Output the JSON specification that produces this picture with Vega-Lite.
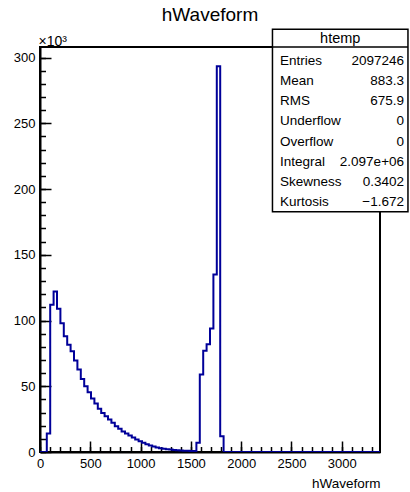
{
  "$schema": "https://vega.github.io/schema/vega-lite/v6.json",
  "width": 340,
  "height": 405,
  "autosize": {"type": "none"},
  "padding": {"left": 40, "top": 47, "right": 30, "bottom": 40},
  "background": "white",
  "config": {
    "font": "Liberation Sans",
    "view": {"stroke": "black", "strokeWidth": 2},
    "axis": {
      "domainColor": "black", "domainWidth": 2, "tickColor": "black", "tickWidth": 1.5,
      "labelColor": "black", "titleColor": "black", "labelFont": "Liberation Sans", "titleFont": "Liberation Sans",
      "labelFontSize": 13, "grid": false, "zindex": 1, "labelFlush": false, "labelOverlap": false, "labelBound": false
    }
  },
  "title": {"text": "hWaveform", "fontSize": 19, "fontWeight": "normal", "font": "Liberation Sans", "anchor": "middle", "frame": "group", "offset": 4, "color": "black"},
  "datasets": {
    "hist": [
      {"x":0,"count":0},{"x":33.8,"count":0},{"x":67.6,"count":14000},{"x":101.4,"count":112000},{"x":135.2,"count":122000},{"x":169,"count":109000},{"x":202.8,"count":98000},{"x":236.6,"count":88000},{"x":270.4,"count":81600},{"x":304.2,"count":76600},{"x":338,"count":69500},{"x":371.8,"count":62700},{"x":405.6,"count":55600},{"x":439.4,"count":50000},{"x":473.2,"count":45400},{"x":507,"count":40600},{"x":540.8,"count":36800},{"x":574.6,"count":32800},{"x":608.4,"count":29700},{"x":642.2,"count":27200},{"x":676,"count":24700},{"x":709.8,"count":22200},{"x":743.6,"count":19600},{"x":777.4,"count":17600},{"x":811.2,"count":15600},{"x":845,"count":14100},{"x":878.8,"count":12500},{"x":912.6,"count":11000},{"x":946.4,"count":9500},{"x":980.2,"count":8200},{"x":1014,"count":7000},{"x":1047.8,"count":5900},{"x":1081.6,"count":4900},{"x":1115.4,"count":4200},{"x":1149.2,"count":3400},{"x":1183,"count":2900},{"x":1216.8,"count":2400},{"x":1250.6,"count":2100},{"x":1284.4,"count":1900},{"x":1318.2,"count":1600},{"x":1352,"count":1400},{"x":1385.8,"count":1200},{"x":1419.6,"count":1000},{"x":1453.4,"count":900},{"x":1487.2,"count":800},{"x":1521,"count":700},{"x":1554.8,"count":7000},{"x":1588.6,"count":59000},{"x":1622.4,"count":77000},{"x":1656.2,"count":82000},{"x":1690,"count":94000},{"x":1723.8,"count":135000},{"x":1757.6,"count":293300},{"x":1791.4,"count":12000},{"x":1825.2,"count":0},{"x":3380,"count":0}
    ],
    "stats": [
      {"stat": "Entries", "val": "2097246"},
      {"stat": "Mean", "val": "883.3"},
      {"stat": "RMS", "val": "675.9"},
      {"stat": "Underflow", "val": "0"},
      {"stat": "Overflow", "val": "0"},
      {"stat": "Integral", "val": "2.097e+06"},
      {"stat": "Skewness", "val": "0.3402"},
      {"stat": "Kurtosis", "val": "\u22121.672"}
    ],
    "header": [{"label": "htemp"}]
  },
  "layer": [
    {
      "resolve": {"axis": {"x": "independent", "y": "independent"}},
      "layer": [
        {
          "data": {"name": "hist"},
          "mark": {"type": "line", "interpolate": "step-after", "color": "#000099", "strokeWidth": 2, "clip": true},
          "encoding": {
            "x": {
              "field": "x", "type": "quantitative",
              "scale": {"domain": [0, 3380], "nice": false, "zero": false},
              "axis": {
                "orient": "bottom",
                "values": [0,500,1000,1500,2000,2500,3000],
                "format": "d",
                "tickSize": -11,
                "labelPadding": 16,
                "title": "hWaveform", "titleFontSize": 13.5, "titleFontWeight": "normal",
                "titleAnchor": "end", "titleAlign": "right", "titleBaseline": "middle", "titleY": 31
              }
            },
            "y": {
              "field": "count", "type": "quantitative",
              "scale": {"domain": [0, 308000], "nice": false},
              "axis": {
                "orient": "left",
                "values": [0,50000,100000,150000,200000,250000,300000],
                "labelExpr": "'' + (datum.value / 1000)",
                "tickSize": -11,
                "labelPadding": 16,
                "title": "\u00d710\u00b3", "titleAngle": 0, "titleAlign": "left", "titleBaseline": "alphabetic",
                "titleX": -2, "titleY": -2, "titleFontSize": 14, "titleFontWeight": "normal"
              }
            }
          }
        },
        {
          "data": {"values": [{}]},
          "mark": {"type": "point", "opacity": 0, "clip": true},
          "encoding": {
            "x": {
              "datum": 0, "type": "quantitative",
              "axis": {
                "orient": "bottom",
                "values": [0,100,200,300,400,500,600,700,800,900,1000,1100,1200,1300,1400,1500,1600,1700,1800,1900,2000,2100,2200,2300,2400,2500,2600,2700,2800,2900,3000,3100,3200,3300],
                "tickSize": -5.5, "labels": false, "domain": false, "title": null
              }
            },
            "y": {
              "datum": 0, "type": "quantitative",
              "axis": {
                "orient": "left",
                "values": [0,10000,20000,30000,40000,50000,60000,70000,80000,90000,100000,110000,120000,130000,140000,150000,160000,170000,180000,190000,200000,210000,220000,230000,240000,250000,260000,270000,280000,290000,300000],
                "tickSize": -5.5, "labels": false, "domain": false, "title": null
              }
            }
          }
        },
        {
          "data": {"values": [{}]},
          "mark": {"type": "rect", "fill": "white", "stroke": "black", "strokeWidth": 1.5, "clip": false},
          "encoding": {
            "x": {"datum": 2311, "type": "quantitative", "axis": null},
            "x2": {"datum": 3658},
            "y": {"datum": 321470, "type": "quantitative", "axis": null},
            "y2": {"datum": 182750}
          }
        },
        {
          "data": {"values": [{}]},
          "mark": {"type": "rule", "stroke": "black", "strokeWidth": 1.5, "clip": false},
          "encoding": {
            "x": {"datum": 2311, "type": "quantitative", "axis": null},
            "x2": {"datum": 3658},
            "y": {"datum": 308000, "type": "quantitative", "axis": null}
          }
        },
        {
          "data": {"name": "header"},
          "mark": {"type": "text", "fontSize": 14.5, "align": "center", "baseline": "middle", "color": "black", "clip": false},
          "encoding": {
            "x": {"datum": 2985, "type": "quantitative", "axis": null},
            "y": {"datum": 313860, "type": "quantitative", "axis": null},
            "text": {"field": "label"}
          }
        }
      ]
    },
    {
      "data": {"name": "stats"},
      "encoding": {
        "y": {"field": "stat", "type": "nominal", "sort": null, "scale": {"type": "point", "range": [13.7, 155.3], "padding": 0}, "axis": null}
      },
      "layer": [
        {
          "mark": {"type": "text", "fontSize": 13.5, "align": "left", "baseline": "middle", "color": "black", "clip": false},
          "encoding": {
            "x": {"datum": 2386, "type": "quantitative", "scale": {"domain": [0, 3380], "nice": false, "zero": false}, "axis": null},
            "text": {"field": "stat"}
          }
        },
        {
          "mark": {"type": "text", "fontSize": 13.5, "align": "right", "baseline": "middle", "color": "black", "clip": false},
          "encoding": {
            "x": {"datum": 3619, "type": "quantitative", "scale": {"domain": [0, 3380], "nice": false, "zero": false}, "axis": null},
            "text": {"field": "val"}
          }
        }
      ]
    }
  ],
  "resolve": {"scale": {"y": "independent"}}
}
